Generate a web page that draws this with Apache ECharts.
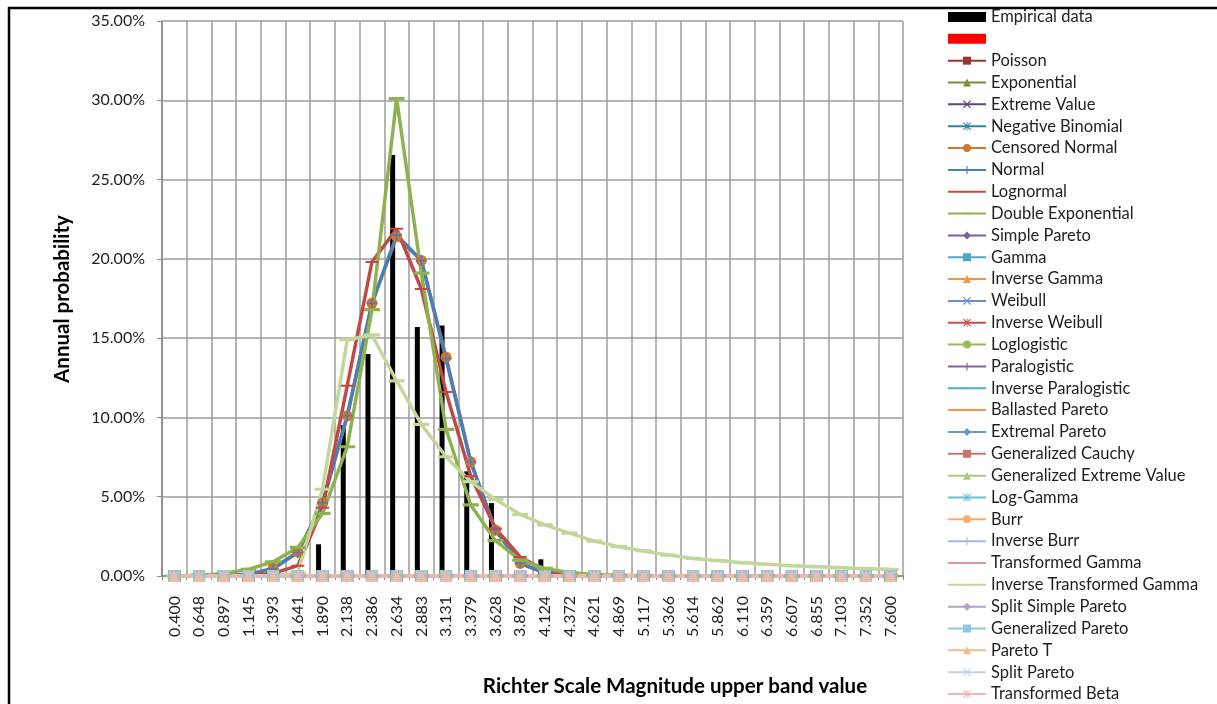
<!DOCTYPE html>
<html>
<head>
<meta charset="utf-8">
<script src="https://cdn.jsdelivr.net/npm/echarts@6/dist/echarts.min.js"></script>
<style>
html,body{margin:0;padding:0;background:#fff;}
#chart{width:1217px;height:704px;}
</style>
</head>
<body>
<div id="chart"></div>
<script>
const categories = ['0.400','0.648','0.897','1.145','1.393','1.641','1.890','2.138','2.386','2.634','2.883','3.131','3.379','3.628','3.876','4.124','4.372','4.621','4.869','5.117','5.366','5.614','5.862','6.110','6.359','6.607','6.855','7.103','7.352','7.600'];
const yTicks = [0, 5, 10, 15, 20, 25, 30, 35];

// values in percent
const empiricalPct = [0,0,0,0,0,0,2.0,9.5,14.0,26.55,15.7,15.8,6.6,4.6,0,1.05,0,0,0,0,0,0,0,0,0,0,0,0,0,0];
const secondBarPct = [0,0,0,0,0,0,0,0,0,0,0,0,0,0,0,0,0,0,0,0,0,0,0,0,0,0,0,0,0,0];
const zeroPct = [0,0,0,0,0,0,0,0,0,0,0,0,0,0,0,0,0,0,0,0,0,0,0,0,0,0,0,0,0,0];
const normalPct = [0,0,0.02,0.1,0.45,1.5,4.6,10.1,17.2,21.5,19.9,13.7,7.2,2.9,0.8,0.2,0.05,0,0,0,0,0,0,0,0,0,0,0,0,0];
const censoredNormalPct = [0,0,0.02,0.1,0.5,1.5,4.6,10.1,17.2,21.4,19.9,13.8,7.2,2.9,0.8,0.2,0.05,0,0,0,0,0,0,0,0,0,0,0,0,0];
const lognormalPct = [0,0,0,0.02,0.17,0.65,4.3,12.0,19.8,21.9,18.1,11.6,6.3,3.0,1.2,0.38,0.1,0.03,0,0,0,0,0,0,0,0,0,0,0,0];
const doubleExpPct = [0.01,0.05,0.15,0.42,0.9,1.8,3.95,8.15,16.8,30.1,19.1,9.25,4.48,2.23,1.0,0.48,0.2,0.1,0.05,0.02,0.01,0,0,0,0,0,0,0,0,0];
const invTransGammaPct = [0,0,0,0,0,0.2,5.47,14.9,15.2,12.3,9.56,7.52,5.95,4.83,3.89,3.22,2.7,2.2,1.85,1.58,1.32,1.11,0.97,0.84,0.74,0.65,0.59,0.52,0.46,0.42];

const lineSeriesNames = ['Poisson','Exponential','Extreme Value','Negative Binomial','Censored Normal','Normal','Lognormal','Double Exponential','Simple Pareto','Gamma','Inverse Gamma','Weibull','Inverse Weibull','Loglogistic','Paralogistic','Inverse Paralogistic','Ballasted Pareto','Extremal Pareto','Generalized Cauchy','Generalized Extreme Value','Log-Gamma','Burr','Inverse Burr','Transformed Gamma','Inverse Transformed Gamma','Split Simple Pareto','Generalized Pareto','Pareto T','Split Pareto','Transformed Beta'];
const lineColors = ['#953735','#76923C','#5F497A','#31859C','#D0752E','#4A7EBB','#BE4B48','#8DB24E','#7D60A0','#46AAC5','#F69240','#6A8FC9','#C0504D','#9BBB59','#8064A2','#4BACC6','#F79646','#7092C8','#CD7371','#AFC97A','#6FBDD1','#F9AB6B','#A5B8DB','#D99694','#C3D69B','#B3A2C7','#93C6DA','#F8BA8E','#C5D0E6','#E6B9B8'];
const lineValues = {
  'Censored Normal': censoredNormalPct,
  'Normal': normalPct,
  'Lognormal': lognormalPct,
  'Double Exponential': doubleExpPct,
  'Inverse Transformed Gamma': invTransGammaPct
};

const SYM = {
  sq: 'rect',
  tri: 'triangle',
  dia: 'diamond',
  cir: 'circle',
  plus: 'path://M4.3,0H5.7V4.3H10V5.7H5.7V10H4.3V5.7H0V4.3H4.3Z',
  x: 'path://M1,0L5,4L9,0L10,1L6,5L10,9L9,10L5,6L1,10L0,9L4,5L0,1Z',
  star: 'path://M1,0L5,4L9,0L10,1L6,5L10,9L9,10L5,6L1,10L0,9L4,5L0,1Z M4.4,0H5.6V10H4.4Z',
  dash: 'path://M0,0L0.01,0L0,0.01Z M0,4.2H10V5.8H0Z M10,10L9.99,10L10,9.99Z',
  ldash: 'path://M0,0L0.01,0L0,0.01Z M0,4H10V6H0Z M10,10L9.99,10L10,9.99Z'
};
const symbolOf = ['sq','tri','x','star','cir','plus','dash','ldash','dia','sq','tri','x','star','cir','plus','dash','ldash','dia','sq','tri','star','cir','plus','dash','ldash','dia','sq','tri','x','star'];
const sizeOf = {sq:12, tri:12, dia:12, cir:11, plus:11, x:10, star:11, dash:13, ldash:16};

const FONT = 'Lato';

const series = [
  {name:'Empirical data', type:'bar', data: empiricalPct, barWidth:5, barGap:'60%', itemStyle:{color:'#000'}},
  {name:' ', type:'bar', data: secondBarPct, barWidth:5, barGap:'60%', itemStyle:{color:'#FF0000'}}
];
lineSeriesNames.forEach((n, i) => {
  const s = symbolOf[i];
  series.push({
    name: n, type: 'line', data: lineValues[n] || zeroPct,
    symbol: SYM[s], symbolSize: sizeOf[s], showAllSymbol: true,
    lineStyle: {color: lineColors[i], width: 3.5},
    itemStyle: {color: lineColors[i], borderColor: lineColors[i], borderWidth: 0},
    emphasis: {disabled: true},
    animation: false
  });
});

const legendData = [{name:'Empirical data', icon:'rect'}, {name:' ', icon:'rect'}].concat(lineSeriesNames.map(n => ({name:n})));

const chart = echarts.init(document.getElementById('chart'), null, {renderer:'canvas'});
chart.setOption({
  animation: false,
  backgroundColor: '#fff',
  grid: {left: 162, right: 314, top: 21, bottom: 128, containLabel: false},
  xAxis: {
    type: 'category', data: categories, boundaryGap: true,
    axisLine: {lineStyle: {color: '#868686', width: 1.5}},
    axisTick: {show: true, length: 4, lineStyle: {color: '#868686'}},
    axisLabel: {rotate: 90, margin: 20, fontFamily: FONT, fontSize: 16, color: '#1F1F1F', interval: 0},
    splitLine: {show: true, interval: 0, lineStyle: {color: '#9C9C9C', width: 1.5}}
  },
  yAxis: {
    type: 'value', min: yTicks[0], max: yTicks[yTicks.length-1], interval: 5,
    axisLine: {show: true, lineStyle: {color: '#868686', width: 1.5}},
    axisTick: {show: true, length: 5, lineStyle: {color: '#868686'}},
    axisLabel: {margin: 17, fontFamily: FONT, fontSize: 16, color: '#1F1F1F', formatter: v => v.toFixed(2) + '%'},
    splitLine: {show: true, lineStyle: {color: '#9C9C9C', width: 1.5}}
  },
  legend: {
    orient: 'vertical', left: 947, top: 8, padding: 0, height: 700, itemWidth: 38, itemHeight: 10, itemGap: 3.84,
    data: legendData, selectedMode: false,
    textStyle: {fontFamily: FONT, fontSize: 16.5, color: '#1F1F1F', lineHeight: 18}
  },
  graphic: [
    {type:'rect', shape:{x:9, y:8, width:1240, height:740}, style:{fill:'none', stroke:'#000', lineWidth:2.5}, silent:true},
    {type:'text', x:62, y:299, rotation: Math.PI/2, style:{text:'Annual probability', font:'bold 20.5px Lato', fill:'#000', textAlign:'center', textVerticalAlign:'middle'}},
    {type:'text', x:675, y:686, style:{text:'Richter Scale Magnitude upper band value', font:'bold 20.5px Lato', fill:'#000', textAlign:'center', textVerticalAlign:'middle'}}
  ],
  series: series
});
</script>
</body>
</html>
